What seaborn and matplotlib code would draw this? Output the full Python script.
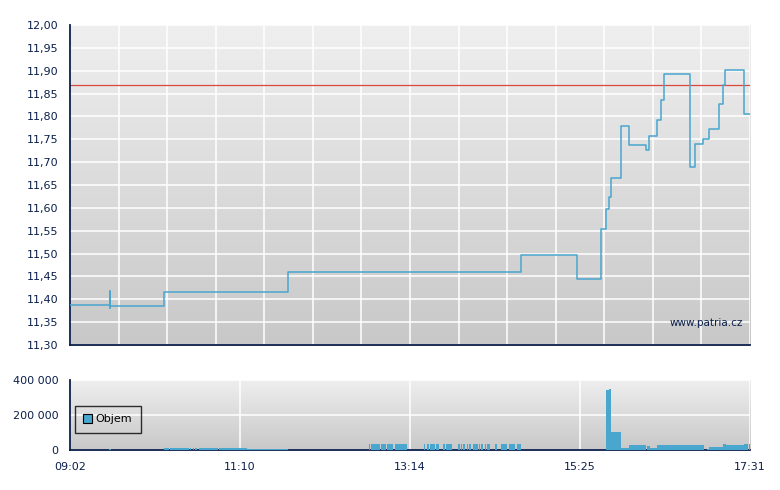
import numpy as np
import pandas as pd
import seaborn as sns
import matplotlib.pyplot as plt
from matplotlib.colors import LinearSegmentedColormap
from matplotlib.patches import Patch

# ============================================================
# DATA (time = minutes after 09:02)
# ============================================================
price_min = [0.0, 29.6, 29.9, 30.2, 70.4, 163.0, 337.4, 379.7, 397.2, 401.2,
             403.2, 404.7, 412.2, 418.6, 431.1, 433.6, 439.6, 442.2, 444.6,
             464.1, 467.6, 474.0, 478.1, 486.0, 489.0, 490.5, 504.5, 509.0]
price_val = [11.387, 11.418, 11.380, 11.385, 11.417, 11.460, 11.497, 11.445,
             11.553, 11.597, 11.623, 11.665, 11.778, 11.738, 11.726, 11.758,
             11.792, 11.835, 11.892, 11.689, 11.740, 11.750, 11.772, 11.828,
             11.869, 11.901, 11.806, 11.806]
ref_price = 11.868

vol_start = [29.2, 70.4, 74.9, 89.8, 91.8, 93.8, 96.6, 111.5, 132.5,
             223.8, 225.3, 232.8, 237.3, 243.3,
             265.0, 267.6, 269.5, 274.0, 279.4, 281.4, 290.4, 292.7, 294.4,
             296.9, 298.7, 301.4, 303.4, 305.9, 307.9, 310.4, 312.4, 317.9,
             322.4, 328.4, 331.8, 334.8, 336.3,
             401.2, 403.5, 405.0, 412.4, 418.4, 431.9, 434.1, 439.4, 476.8,
             478.3, 488.8, 491.1, 504.6, 508.3]
vol_end = [30.7, 74.3, 89.3, 90.6, 92.8, 94.8, 110.8, 132.5, 163.2,
           224.6, 232.0, 236.5, 241.8, 252.3,
           266.0, 269.1, 273.0, 276.0, 280.9, 286.2, 291.9, 293.4, 295.9,
           297.9, 300.4, 302.9, 305.4, 306.9, 309.4, 311.4, 314.4, 319.4,
           327.3, 331.4, 332.9, 335.9, 337.4,
           403.5, 405.0, 412.4, 418.4, 431.1, 434.1, 439.4, 474.5, 478.3,
           488.8, 491.1, 504.6, 507.6, 509.0]
vol_val = [6000, 11000, 11000, 11000, 11000, 11000, 11000, 11000, 6000,
           34000, 34000, 34000, 34000, 34000,
           34000, 34000, 34000, 34000, 34000, 34000, 34000, 34000, 34000,
           34000, 34000, 34000, 34000, 34000, 34000, 34000, 34000, 34000,
           34000, 34000, 34000, 34000, 34000,
           343000, 349000, 103000, 11000, 29000, 23000, 11000, 29000, 6000,
           17000, 34000, 29000, 34000, 34000]

time_labels = ["09:02", "11:10", "13:14", "15:25", "17:31"]
price_ticks = [11.30, 11.35, 11.40, 11.45, 11.50, 11.55, 11.60, 11.65,
               11.70, 11.75, 11.80, 11.85, 11.90, 11.95, 12.00]
vol_ticks = [0, 200000, 400000]

# ============================================================
# STYLE
# ============================================================
sns.set_style("white")
plt.rcParams["font.family"] = ["DejaVu Sans"]
plt.rcParams["font.size"] = 8

NAVY = "#0b1f4b"
BLUE = "#49a6cf"
RED = "#d9473f"
T_END = 509.0
grad = LinearSegmentedColormap.from_list("bg", ["#c8c8c8", "#efefef"])


def style_axes(ax):
    ax.imshow(np.linspace(0, 1, 256)[:, None], extent=[0, 1, 0, 1],
              transform=ax.transAxes, aspect="auto", cmap=grad,
              origin="lower", zorder=0)
    ax.set_axisbelow("line")
    for s in ["top", "right"]:
        ax.spines[s].set_visible(False)
    for s in ["left", "bottom"]:
        ax.spines[s].set_color(NAVY)
        ax.spines[s].set_linewidth(1.3)
    ax.tick_params(axis="both", colors=NAVY, labelcolor=NAVY, length=5,
                   width=1.2, direction="out", labelsize=8)
    ax.grid(True, color="white", linewidth=1.1)


fig = plt.figure(figsize=(7.8, 4.9), dpi=100)
ax1 = fig.add_axes([0.0897, 0.2959, 0.8718, 0.6531])
ax2 = fig.add_axes([0.0897, 0.0816, 0.8718, 0.1429])

# ============================================================
# PRICE PANEL
# ============================================================
style_axes(ax1)
df_price = pd.DataFrame({"t": price_min, "price": price_val})
sns.lineplot(data=df_price, x="t", y="price", drawstyle="steps-post",
             color=BLUE, linewidth=1.1, ax=ax1, zorder=3)
ax1.axhline(ref_price, color=RED, linewidth=0.9, zorder=2.5)
ax1.set_xlim(0, T_END)
ax1.set_ylim(11.30, 12.00)
ax1.set_yticks(price_ticks)
ax1.set_yticklabels([f"{v:.2f}".replace(".", ",") for v in price_ticks])
ax1.set_xticks(np.linspace(0, T_END, 15))
ax1.set_xticklabels([])
ax1.set_xlabel("")
ax1.set_ylabel("")
ax1.text(0.99, 0.069, "www.patria.cz", transform=ax1.transAxes,
         ha="right", va="center", color=NAVY, fontsize=7.5, zorder=4)

# ============================================================
# VOLUME PANEL
# ============================================================
style_axes(ax2)
df_vol = pd.DataFrame({"start": vol_start, "end": vol_end, "vol": vol_val})
ax2.bar(df_vol["start"], df_vol["vol"], width=df_vol["end"] - df_vol["start"],
        align="edge", color=BLUE, linewidth=0, zorder=3)
ax2.set_xlim(0, T_END)
ax2.set_ylim(0, 400000)
ax2.set_yticks(vol_ticks)
ax2.set_yticklabels([f"{v:,}".replace(",", " ") for v in vol_ticks])
ax2.set_xticks(np.linspace(0, T_END, 5))
ax2.set_xticklabels(time_labels)

leg = ax2.legend(handles=[Patch(facecolor=BLUE, edgecolor="black",
                                linewidth=0.8, label="Objem")],
                 loc="center left", bbox_to_anchor=(0.0074, 0.44),
                 borderaxespad=0, frameon=True, fancybox=False, fontsize=8,
                 handlelength=0.8, handleheight=0.8, handletextpad=0.3,
                 borderpad=0.75, labelcolor="black")
leg.get_frame().set_edgecolor("black")
leg.get_frame().set_facecolor("none")
leg.get_frame().set_linewidth(1.0)
leg.set_zorder(5)

plt.savefig("out.png", dpi=100)
plt.close()
